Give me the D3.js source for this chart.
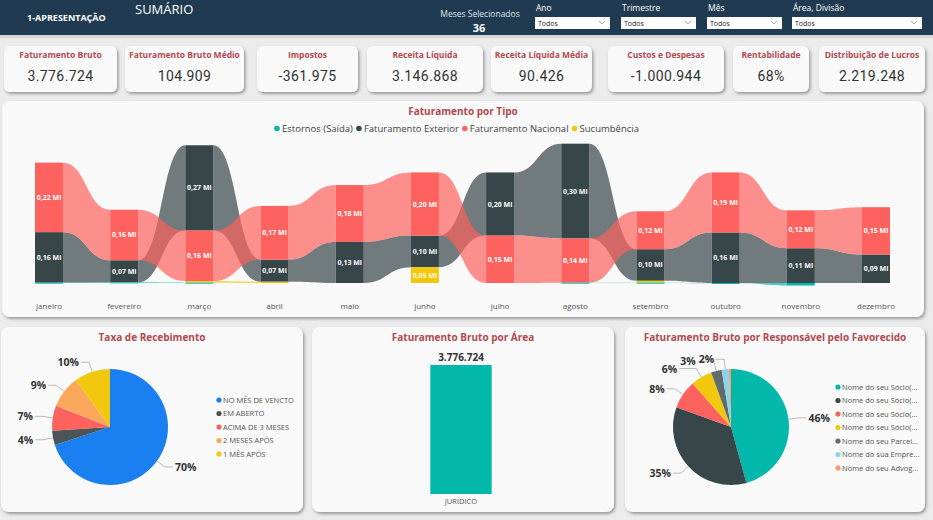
<!DOCTYPE html>
<html>
<head>
<meta charset="utf-8">
<script src="https://cdn.jsdelivr.net/npm/d3@7"></script>
<style>
  body { margin: 0; background: #ebebeb; }
  svg { display: block; font-family: 'Open Sans', sans-serif; }
</style>
</head>
<body>
<svg id="chart" width="933" height="520"></svg>
<script>
const W = 933, H = 520;
const titleColor = '#b04a4f';

// KPI cards
const kpiTitles = ['Faturamento Bruto', 'Faturamento Bruto Médio', 'Impostos', 'Receita Líquida',
  'Receita Líquida Média', 'Custos e Despesas', 'Rentabilidade', 'Distribuição de Lucros'];
const kpiValues = [3776724, 104909, -361975, 3146868, 90426, -1000944, 0.68, 2219248];

// ribbon chart
const months = ['janeiro', 'fevereiro', 'março', 'abril', 'maio', 'junho', 'julho',
  'agosto', 'setembro', 'outubro', 'novembro', 'dezembro'];
const seriesNames = ['Estornos (Saída)', 'Faturamento Exterior', 'Faturamento Nacional', 'Sucumbência'];
const seriesColors = ['#01b8aa', '#374649', '#fd625e', '#f2c80f'];
const estornos = [0.001, 0.002, 0.001, 0, 0, 0, 0, 0.001, 0.001, -0.001, -0.008, 0];
const exterior = [0.16, 0.07, 0.27, 0.07, 0.13, 0.10, 0.20, 0.30, 0.10, 0.16, 0.11, 0.09];
const nacional = [0.22, 0.16, 0.16, 0.17, 0.18, 0.20, 0.15, 0.14, 0.12, 0.19, 0.12, 0.15];
const sucumbencia = [0, 0, 0.005, 0.004, 0, 0.05, 0, 0, 0.006, 0, 0, 0];

// taxa de recebimento
const taxaLabels = ['NO MÊS DE VENCTO', 'EM ABERTO', 'ACIMA DE 3 MESES', '2 MESES APÓS', '1 MÊS APÓS'];
const taxaValues = [70, 4, 7, 9, 10];
const taxaColors = ['#1a7ff0', '#4b5456', '#fd625e', '#fba85c', '#f2c80f'];

// faturamento por área
const areas = ['JURÍDICO'];
const areaValues = [3776724];

// faturamento por responsável
const respLabels = ['Nome do seu Sócio(...', 'Nome do seu Sócio(...', 'Nome do seu Sócio(...', 'Nome do seu Sócio(...',
  'Nome do seu Parcei...', 'Nome do sua Empre...', 'Nome do seu Advog...'];
const respValues = [46, 35, 8, 6, 3, 2, 0.6];
const respColors = ['#01b8aa', '#374649', '#fd625e', '#f2c80f', '#5f6b6d', '#8ad4eb', '#fe9666'];

const br = d3.formatLocale({ decimal: ',', thousands: '.', grouping: [3], currency: ['R$', ''], minus: '-' });
const fmtInt = br.format(',d');
const fmtMi = v => br.format('.2f')(v) + ' Mi';

const svg = d3.select('#chart');
const defs = svg.append('defs');
const f = defs.append('filter').attr('id', 'sh').attr('x', '-10%').attr('y', '-10%').attr('width', '120%').attr('height', '130%');
f.append('feDropShadow').attr('dx', 1.5).attr('dy', 2).attr('stdDeviation', 1.5).attr('flood-color', '#000').attr('flood-opacity', 0.35);

function panel(x, y, w, h) {
  svg.append('rect').attr('x', x).attr('y', y).attr('width', w).attr('height', h)
    .attr('rx', 8).attr('fill', '#f9f9f9').attr('filter', 'url(#sh)');
}
function title(x, y, t) {
  svg.append('text').attr('x', x).attr('y', y).attr('text-anchor', 'middle')
    .attr('font-size', 10).attr('font-weight', 700).attr('fill', titleColor).text(t);
}

// HEADER
svg.append('rect').attr('width', W).attr('height', 35).attr('fill', '#1f3a51');
svg.append('rect').attr('y', 35).attr('width', W).attr('height', 3).attr('fill', '#d6d6d6');
svg.append('text').attr('x', 27).attr('y', 21).attr('fill', '#fff').attr('font-size', 9).attr('font-weight', 700).text('1-APRESENTAÇÃO');
svg.append('text').attr('x', 135).attr('y', 14).attr('fill', '#fff').attr('font-size', 13).text('SUMÁRIO');
svg.append('text').attr('x', 480).attr('y', 17).attr('text-anchor', 'middle').attr('fill', '#dfe4e8').attr('font-size', 8.5).text('Meses Selecionados');
svg.append('text').attr('x', 479).attr('y', 32).attr('text-anchor', 'middle').attr('fill', '#fff').attr('font-size', 11).attr('font-weight', 700).text('36');

const filterNames = ['Ano', 'Trimestre', 'Mês', 'Área, Divisão'];
const filterX = [535, 621, 707, 792];
const filterW = [75, 75, 75, 130];
filterNames.forEach((n, i) => {
  const g = svg.append('g').attr('transform', `translate(${filterX[i]},0)`);
  g.append('text').attr('x', 1).attr('y', 11).attr('fill', '#fff').attr('font-size', 8.5).text(n);
  g.append('rect').attr('y', 17).attr('width', filterW[i]).attr('height', 12).attr('fill', '#fff');
  g.append('text').attr('x', 3).attr('y', 26).attr('fill', '#222').attr('font-size', 7).text('Todos');
  const cx = filterW[i] - 8;
  g.append('path').attr('d', `M${cx - 3},21 L${cx},24 L${cx + 3},21`).attr('fill', 'none').attr('stroke', '#999').attr('stroke-width', 0.8);
});

// KPI CARDS
const cardX = [4, 125, 257, 367, 491, 608, 733, 819];
const cardW = [113, 119, 101, 116, 101, 116, 76, 106];
kpiTitles.forEach((t, i) => {
  svg.append('rect').attr('x', cardX[i]).attr('y', 46).attr('width', cardW[i]).attr('height', 46)
    .attr('rx', 6).attr('fill', '#f9f9f9').attr('filter', 'url(#sh)');
  const cx = cardX[i] + cardW[i] / 2;
  svg.append('text').attr('x', cx).attr('y', 58).attr('text-anchor', 'middle')
    .attr('font-size', 8.5).attr('font-weight', 700).attr('fill', titleColor).text(t);
  const v = kpiValues[i];
  const s = Math.abs(v) < 1 ? Math.round(v * 100) + '%' : fmtInt(v);
  svg.append('text').attr('x', cx).attr('y', 81).attr('text-anchor', 'middle')
    .attr('font-family', 'Roboto, sans-serif').attr('font-size', 14).attr('letter-spacing', 0.4)
    .attr('fill', '#333').text(s);
});

// RIBBON CHART
panel(2, 101, 922, 216);
title(463, 115, 'Faturamento por Tipo');

// legend
const leg = svg.append('g').attr('font-size', 9.5).attr('fill', '#444');
let lx = 277;
seriesNames.forEach((n, i) => {
  leg.append('circle').attr('cx', lx).attr('cy', 128.5).attr('r', 2.8).attr('fill', seriesColors[i]);
  const t = leg.append('text').attr('x', lx + 5).attr('y', 132).attr('fill', '#444').text(n);
  lx += t.node().getComputedTextLength() + 11;
});

const x = d3.scalePoint().domain(months).range([49, 876]);
const bw = 28;
const y = d3.scaleLinear().domain([0, 0.44]).range([283, 144]);
const seriesValues = [estornos, exterior, nacional, sucumbencia];

// stack positions per month: smaller values lower, largest on top, negatives below
const pos = seriesValues.map(() => []);
months.forEach((m, i) => {
  const order = d3.range(seriesValues.length).sort((a, b) => seriesValues[a][i] - seriesValues[b][i]);
  let up = 0, down = 0;
  order.forEach(s => {
    const v = seriesValues[s][i];
    if (v >= 0) { pos[s][i] = [up, up + v]; up += v; }
    else { pos[s][i] = [down + v, down]; down += v; }
  });
});

const ribbons = svg.append('g');
const bars = svg.append('g');
const drawOrder = [1, 2, 3, 0];
drawOrder.forEach(s => {
  for (let i = 0; i < months.length - 1; i++) {
    // no ribbon when a month has no value
    if (seriesValues[s][i] === 0 || seriesValues[s][i + 1] === 0) continue;
    const x0 = x(months[i]) + bw / 2, x1 = x(months[i + 1]) - bw / 2, xm = (x0 + x1) / 2;
    const [a0, a1] = pos[s][i], [b0, b1] = pos[s][i + 1];
    const p = d3.path();
    p.moveTo(x0, y(a1));
    p.bezierCurveTo(xm, y(a1), xm, y(b1), x1, y(b1));
    p.lineTo(x1, y(b0));
    p.bezierCurveTo(xm, y(b0), xm, y(a0), x0, y(a0));
    p.closePath();
    ribbons.append('path').attr('d', p).attr('fill', seriesColors[s]).attr('fill-opacity', 0.7);
  }
  months.forEach((m, i) => {
    const [v0, v1] = pos[s][i];
    if (v1 - v0 === 0) return;
    bars.append('rect').attr('x', x(m) - bw / 2).attr('width', bw)
      .attr('y', y(v1)).attr('height', Math.max(y(v0) - y(v1), 1)).attr('fill', seriesColors[s]);
    if (Math.abs(seriesValues[s][i]) >= 0.04) {
      bars.append('text').attr('x', x(m)).attr('y', (y(v0) + y(v1)) / 2 + 2.5)
        .attr('text-anchor', 'middle').attr('font-size', 7).attr('font-weight', 700)
        .attr('fill', s === 3 ? '#fff8d8' : '#fff').text(fmtMi(seriesValues[s][i]));
    }
  });
});

svg.append('g').selectAll('text').data(months).join('text')
  .attr('x', d => x(d)).attr('y', 309).attr('text-anchor', 'middle')
  .attr('font-size', 8).attr('fill', '#555').text(d => d);

// PIE helper
function pieChart(cx, cy, r, values, colors, minPct) {
  const total = d3.sum(values);
  const arcs = d3.pie().sort(null)(values);
  const arc = d3.arc().innerRadius(0).outerRadius(r);
  const g = svg.append('g').attr('transform', `translate(${cx},${cy})`);
  g.selectAll('path').data(arcs).join('path').attr('d', arc).attr('fill', (d, i) => colors[i]);
  const labels = arcs.filter(d => d.value / total * 100 >= minPct).map(d => {
    const a = (d.startAngle + d.endAngle) / 2;
    const side = Math.sin(a) >= 0 ? 1 : -1;
    const p1 = [Math.sin(a) * r, -Math.cos(a) * r];
    const p2 = [Math.sin(a) * (r + 10), -Math.cos(a) * (r + 10)];
    const t = g.append('text').attr('text-anchor', side > 0 ? 'start' : 'end')
      .attr('font-size', 10.5).attr('font-weight', 700).attr('fill', '#333')
      .text(Math.round(d.value / total * 100) + '%');
    return { a, side, p1, p2, end: p2[0] + side * 8, t, w: t.node().getComputedTextLength() };
  });
  // avoid overlaps among left labels on the same row
  const left = labels.filter(l => l.side < 0).sort((m, n) => n.a - m.a);
  let prev = null;
  left.forEach(l => {
    if (prev && Math.abs(prev.p2[1] - l.p2[1]) < 10) l.end = Math.min(l.end, prev.end - 2 - prev.w - 1);
    prev = l;
  });
  labels.forEach(l => {
    g.insert('polyline', 'text').attr('points', [l.p1, l.p2, [l.end, l.p2[1]]].map(p => p.join(',')).join(' '))
      .attr('fill', 'none').attr('stroke', '#aaa').attr('stroke-width', 0.8);
    l.t.attr('x', l.end + l.side * 2).attr('y', l.p2[1] + 4);
  });
}
function pieLegend(x0, y0, labels, colors) {
  const g = svg.append('g');
  labels.forEach((t, i) => {
    g.append('circle').attr('cx', x0).attr('cy', y0 + i * 13.5).attr('r', 2.6).attr('fill', colors[i]);
    g.append('text').attr('x', x0 + 4).attr('y', y0 + i * 13.5 + 2.8).attr('font-size', 7.5).attr('fill', '#555').text(t);
  });
}

// TAXA DE RECEBIMENTO
panel(1, 327, 302, 185);
title(152, 341, 'Taxa de Recebimento');
pieChart(110, 427, 58, taxaValues, taxaColors, 1);
pieLegend(219, 400, taxaLabels, taxaColors);

// FATURAMENTO BRUTO POR ÁREA
panel(312, 327, 302, 185);
title(463, 341, 'Faturamento Bruto por Área');
const xb = d3.scaleBand().domain(areas).range([415, 507]).padding(0.2);
const yb = d3.scaleLinear().domain([0, d3.max(areaValues)]).range([494, 365]);
svg.append('g').selectAll('rect').data(areaValues).join('rect')
  .attr('x', (d, i) => xb(areas[i])).attr('width', xb.bandwidth())
  .attr('y', d => yb(d)).attr('height', d => yb(0) - yb(d)).attr('fill', '#01b8aa');
svg.append('g').selectAll('text').data(areaValues).join('text')
  .attr('x', (d, i) => xb(areas[i]) + xb.bandwidth() / 2).attr('y', d => yb(d) - 4)
  .attr('text-anchor', 'middle').attr('font-size', 10).attr('font-weight', 700).attr('fill', '#333').text(d => fmtInt(d));
svg.append('g').selectAll('text').data(areas).join('text')
  .attr('x', d => xb(d) + xb.bandwidth() / 2).attr('y', 504)
  .attr('text-anchor', 'middle').attr('font-size', 7.5).attr('fill', '#555').text(d => d);

// FATURAMENTO POR RESPONSÁVEL
panel(625, 327, 300, 185);
title(775, 341, 'Faturamento Bruto por Responsável pelo Favorecido');
pieChart(731, 427, 58, respValues, respColors, 1);
pieLegend(838, 387, respLabels, respColors);
</script>
</body>
</html>
